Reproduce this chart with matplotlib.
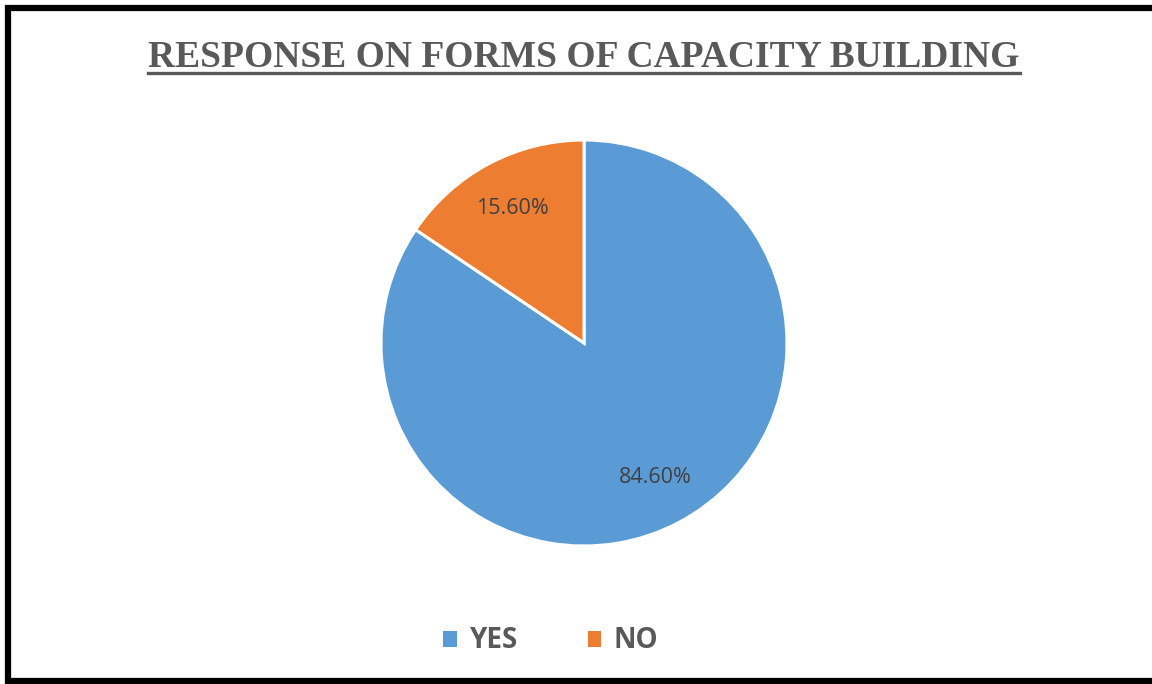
import matplotlib
matplotlib.use("Agg")
import matplotlib.pyplot as plt
from matplotlib.patches import Patch
from matplotlib.lines import Line2D

# data
labels = ["YES", "NO"]
values = [84.6, 15.6]
colors = ["#5B9BD5", "#ED7D31"]
title = "RESPONSE ON FORMS OF CAPACITY BUILDING"

W, H = 1152, 684
fig = plt.figure(figsize=(W / 100, H / 100), dpi=100)

# pie axes: centre (584, 343) px, radius 203 px
cx, cy, r = 584, 343, 203
ax = fig.add_axes([(cx - r) / W, (H - cy - r) / H, 2 * r / W, 2 * r / H])
wedges, texts, autotexts = ax.pie(
    values,
    colors=colors,
    startangle=90,
    counterclock=False,
    autopct=lambda p: "",
    pctdistance=0.75,
    wedgeprops=dict(edgecolor="white", linewidth=2.2),
)
for t, v in zip(autotexts, values):
    t.set_text("%.2f%%" % v)
    t.set_fontsize(15.5)
    t.set_color("#404040")
    t.set_fontfamily(["Open Sans", "DejaVu Sans"])
ax.set_xlim(-1, 1)
ax.set_ylim(-1, 1)
ax.set_aspect("equal")
ax.axis("off")

# title with underline
ttl = fig.text(cx / W, 1 - 67 / H, title, ha="center", va="baseline",
               fontsize=27, fontweight="bold", color="#595959",
               family=["Liberation Serif", "DejaVu Serif"])
fig.canvas.draw()
bb = ttl.get_window_extent()
uy = 1 - 73 / H
fig.add_artist(Line2D([bb.x0 / W, bb.x1 / W], [uy, uy], color="#595959",
                      linewidth=2.4, transform=fig.transFigure))

# legend
handles = [Patch(facecolor=c, edgecolor="none") for c in colors]
leg = fig.legend(handles, labels, loc="center", bbox_to_anchor=(551 / W, 1 - 641 / H),
                 ncol=2, frameon=False, handlelength=0.5, handleheight=0.5,
                 handletextpad=0.45, columnspacing=2.5,
                 prop=dict(family="Open Sans", weight="bold", size=20))
for t in leg.get_texts():
    t.set_color("#595959")

# black frame (left, top, bottom; right side runs off the image)
fig.add_artist(Line2D([1200 / W, 8 / W, 8 / W, 1200 / W],
                      [1 - 8 / H, 1 - 8 / H, 1 - 681 / H, 1 - 681 / H],
                      color="black", linewidth=4.5, transform=fig.transFigure,
                      solid_joinstyle="miter"))

fig.savefig("out.png", dpi=100)
